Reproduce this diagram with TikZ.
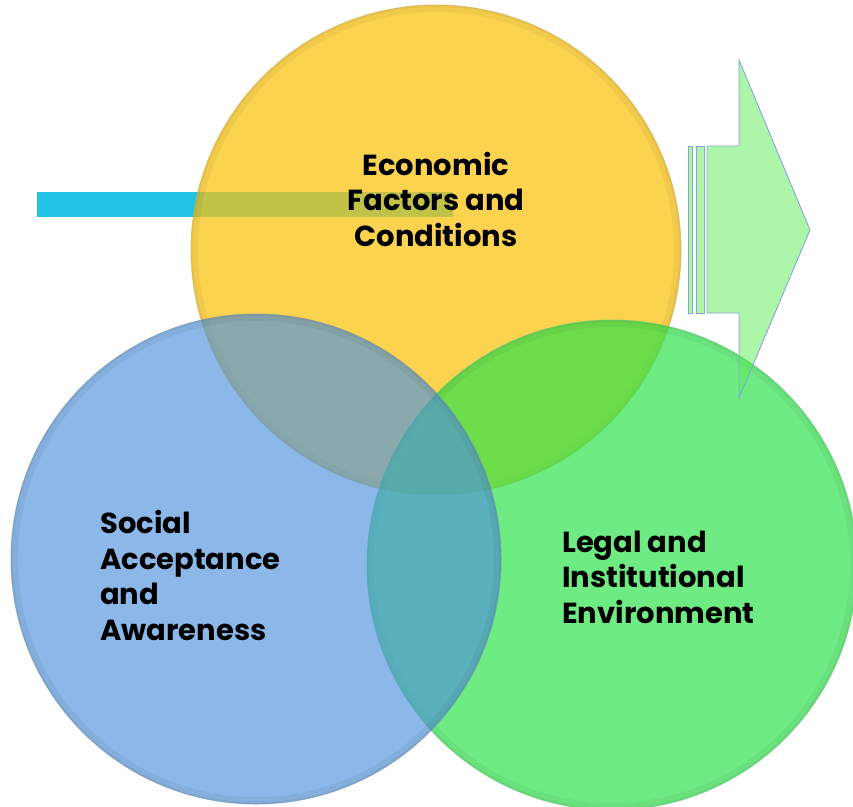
\documentclass[tikz,border=0pt]{standalone}
\usepackage{fontspec}
\setmainfont{Poppins}
\usetikzlibrary{calc}

\definecolor{econfill}{RGB}{251,195,14}
\definecolor{econline}{RGB}{205,180,95}
\definecolor{legalfill}{RGB}{45,226,74}
\definecolor{legalline}{RGB}{100,200,115}
\definecolor{socfill}{RGB}{79,147,220}
\definecolor{socline}{RGB}{115,145,170}
\definecolor{barcyan}{RGB}{34,196,227}
\definecolor{arrowfill}{RGB}{92,236,82}
\definecolor{arrowline}{RGB}{135,165,215}

\tikzset{
  disc/.style={circle, minimum size=490pt, inner sep=0pt},
  rim/.style={path picture={
      \draw[line width=14pt, black, opacity=0.045]
        (path picture bounding box.center) circle[radius=245pt];
      \draw[line width=4pt, black, opacity=0.04]
        (path picture bounding box.center) circle[radius=245pt];}},
  label/.style={font=\fontsize{29}{35.5}\selectfont\bfseries, inner sep=0pt, text=black},
  stripe/.style={fill=arrowfill, fill opacity=0.5, draw=arrowline, line width=0.9pt, line join=miter}
}

\begin{document}
\begin{tikzpicture}[x=1pt, y=-1pt]
  \useasboundingbox (0,0) rectangle (853,806);

  % cyan bar behind the top circle
  \node[fill=barcyan, inner sep=0pt, minimum width=416pt, minimum height=25pt, anchor=north west]
    (bar) at (37,192) {};

  % the three overlapping circles
  \node[disc, rim, fill=econfill, fill opacity=0.73, draw=econline, draw opacity=0.6, line width=1pt]
    (econ) at (436,250) {};
  \node[disc, rim, fill=legalfill, fill opacity=0.69, draw=legalline, draw opacity=0.6, line width=1pt]
    (legal) at (612,565) {};
  \node[disc, rim, fill=socfill, fill opacity=0.66, draw=socline, draw opacity=0.6, line width=1pt]
    (social) at (256,559) {};

  % striped arrow at the upper right
  \coordinate (tip) at (810,230);
  \node[stripe, inner sep=0pt, minimum width=4pt, minimum height=167pt, anchor=north west]
    (s1) at (688,146) {};
  \node[stripe, inner sep=0pt, minimum width=8pt, minimum height=167pt, anchor=north west]
    (s2) at (696,146) {};
  \draw[stripe] (707,146) -- (739,146) -- (739,60) -- (tip) -- (739,398) -- (739,313) -- (707,313) -- cycle;

  % labels (base anchor sits on the last line)
  \node[label, align=center, anchor=base] (econtext) at (436,246)
    {Economic\\Factors and\\Conditions};
  \node[label, align=left, anchor=base west] (soctext) at (100,640)
    {Social\\Acceptance\\and\\Awareness};
  \node[label, align=left, anchor=base west] (legaltext) at (562,623)
    {Legal and\\Institutional\\Environment};
\end{tikzpicture}
\end{document}
